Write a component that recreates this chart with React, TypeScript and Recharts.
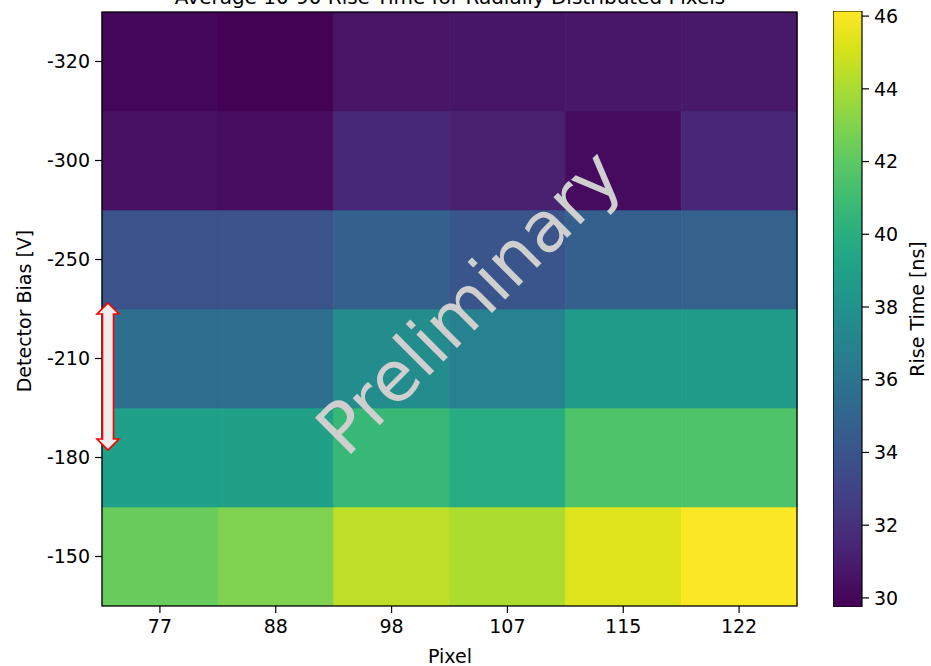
import React from 'react';
import { BarChart, Bar, Cell, XAxis, YAxis } from 'recharts';

// pixels along x, detector bias rows listed top -> bottom
const pixels = ['77', '88', '98', '107', '115', '122'];
const biasLabels = ['-320', '-300', '-250', '-210', '-180', '-150'];

// average 10-90 rise time [ns], one array per bias row (columns follow pixels)
const rise320 = [30.0, 29.8, 30.6, 30.7, 30.75, 30.8];
const rise300 = [30.4, 30.3, 31.55, 31.2, 30.2, 31.5];
const rise250 = [33.85, 33.85, 34.7, 34.0, 34.7, 34.8];
const rise210 = [35.65, 35.6, 37.6, 36.95, 38.6, 38.6];
const rise180 = [39.0, 39.05, 40.7, 39.9, 41.55, 41.55];
const rise150 = [42.3, 42.9, 44.5, 44.1, 45.3, 46.1];

const riseRows = [rise320, rise300, rise250, rise210, rise180, rise150];

const colorTicks = [30, 32, 34, 36, 38, 40, 42, 44, 46];
const V_MIN = 29.75;
const V_MAX = 46.14;

const VIRIDIS = [
  '#440154', '#48186a', '#472d7b', '#424086', '#3b528b', '#33638d',
  '#2c728e', '#26828e', '#21918c', '#1fa088', '#28ae80', '#3fbc73',
  '#5ec962', '#84d44b', '#addc30', '#d8e219', '#fde725',
];

const hexToRgb = (h: string) => [1, 3, 5].map((i) => parseInt(h.slice(i, i + 2), 16));

const viridis = (v: number) => {
  const t = Math.min(1, Math.max(0, (v - V_MIN) / (V_MAX - V_MIN)));
  const pos = t * (VIRIDIS.length - 1);
  const i = Math.min(VIRIDIS.length - 2, Math.floor(pos));
  const f = pos - i;
  const a = hexToRgb(VIRIDIS[i]);
  const b = hexToRgb(VIRIDIS[i + 1]);
  const c = a.map((x, k) => Math.round(x + (b[k] - x) * f));
  return `rgb(${c[0]},${c[1]},${c[2]})`;
};

// stack from bottom (-150) upward
const bottomUp = [...biasLabels].reverse();
const rowsBottomUp = [...riseRows].reverse();

const tableData = pixels.map((p) => {
  const row: Record<string, string | number> = { pixel: p };
  bottomUp.forEach((_, r) => {
    row[`r${r}`] = 1;
  });
  return row;
});

const FONT = '"DejaVu Sans", sans-serif';
const tickStyle = { fontSize: 19, fill: '#000', fontFamily: FONT };

const App: React.FC = () => {
  return (
    <div style={{ position: 'absolute', left: 0, top: 0, width: 931, height: 666, background: '#fff' }}>
      <BarChart
        width={931}
        height={666}
        data={tableData}
        margin={{ top: 12, right: 134, bottom: 0, left: 0 }}
        barCategoryGap={0}
        barGap={0}
        style={{ position: 'absolute', left: 0, top: 0 }}
      >
        <XAxis
          dataKey="pixel"
          type="category"
          height={60}
          axisLine={false}
          tickLine={{ stroke: '#000', strokeWidth: 1.2 }}
          tickSize={7}
          tickMargin={7}
          tick={tickStyle}
          interval={0}
        />
        <YAxis
          type="number"
          domain={[0, 6]}
          ticks={[0.5, 1.5, 2.5, 3.5, 4.5, 5.5]}
          tickFormatter={(v: number) => bottomUp[Math.floor(v)]}
          width={102}
          axisLine={false}
          tickLine={{ stroke: '#000', strokeWidth: 1.2 }}
          tickSize={7}
          tickMargin={5}
          tick={tickStyle}
          allowDataOverflow
        />
        {rowsBottomUp.map((vals, r) => (
          <Bar key={r} dataKey={`r${r}`} stackId="grid" isAnimationActive={false}>
            {vals.map((v, i) => (
              <Cell key={i} fill={viridis(v)} stroke={viridis(v)} strokeWidth={0.6} />
            ))}
          </Bar>
        ))}
      </BarChart>

      <BarChart
        width={98}
        height={666}
        data={[{ name: 'cb', top: V_MAX }]}
        margin={{ top: 11, right: 0, bottom: 59, left: 0 }}
        barCategoryGap={0}
        style={{ position: 'absolute', left: 833, top: 0 }}
      >
        <defs>
          <linearGradient id="viridisBar" x1="0" y1="0" x2="0" y2="1">
            {VIRIDIS.map((c, i) => (
              <stop key={i} offset={`${100 - (i / (VIRIDIS.length - 1)) * 100}%`} stopColor={c} />
            )).reverse()}
          </linearGradient>
        </defs>
        <XAxis dataKey="name" hide />
        <YAxis
          orientation="right"
          type="number"
          domain={[V_MIN, V_MAX]}
          ticks={colorTicks}
          width={69}
          axisLine={false}
          tickLine={{ stroke: '#000', strokeWidth: 1.2 }}
          tickSize={7}
          tickMargin={5}
          tick={tickStyle}
          allowDataOverflow
        />
        <Bar dataKey="top" fill="url(#viridisBar)" stroke="#000" strokeWidth={1.2} isAnimationActive={false} />
      </BarChart>

      <svg
        width={931}
        height={666}
        style={{ position: 'absolute', left: 0, top: 0, pointerEvents: 'none' }}
        fontFamily={FONT}
      >
        <rect x={102} y={12} width={695} height={594} fill="none" stroke="#000" strokeWidth={1.3} />
        <text x={450} y={4} textAnchor="middle" fontSize={20} fill="#000">
          Average 10-90 Rise Time for Radially Distributed Pixels
        </text>
        <text x={450} y={663} textAnchor="middle" fontSize={19} fill="#000">
          Pixel
        </text>
        <text
          x={31}
          y={311}
          textAnchor="middle"
          fontSize={19}
          fill="#000"
          transform="rotate(-90 31 311)"
        >
          Detector Bias [V]
        </text>
        <text
          x={924}
          y={309}
          textAnchor="middle"
          fontSize={19}
          fill="#000"
          transform="rotate(-90 924 309)"
        >
          Rise Time [ns]
        </text>
        <text
          x={469}
          y={302}
          textAnchor="middle"
          dominantBaseline="central"
          fontSize={70}
          fill="#cfcfcf"
          transform="rotate(-45 469 302)"
        >
          Preliminary
        </text>
        <polygon
          points="108,303 119,314 113.5,314 113.5,439 119,439 108,450 97,439 102.5,439 102.5,314 97,314"
          fill="#eeeeee"
          stroke="#ff0000"
          strokeWidth={1.6}
          strokeLinejoin="miter"
        />
      </svg>
    </div>
  );
};

export default App;
